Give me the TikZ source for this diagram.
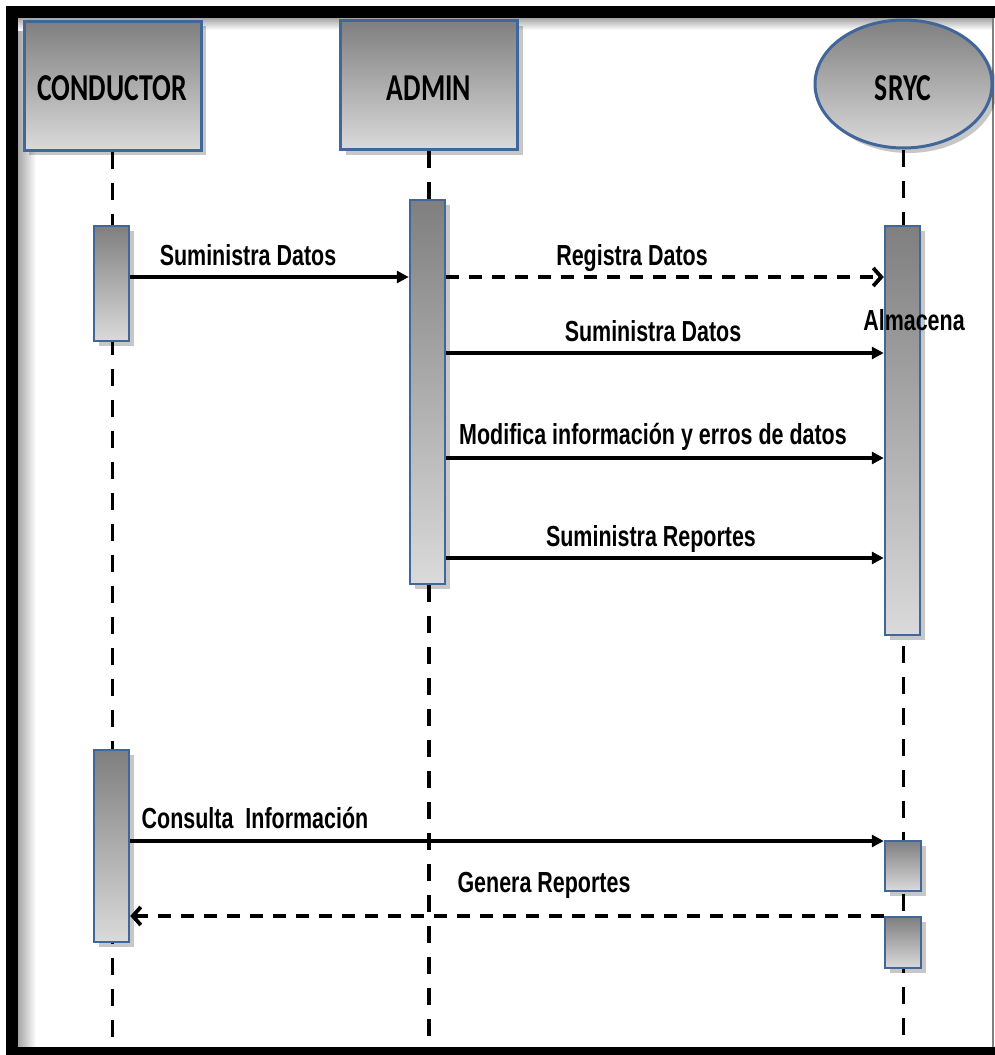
\documentclass[tikz,border=0pt]{standalone}
\usepackage{fontspec}
\usetikzlibrary{arrows.meta,shadows,shapes.geometric}
\newfontfamily\hdfont{Carlito}[FakeStretch=0.73]
\newfontfamily\lbfont{Liberation Sans}[FakeStretch=0.74]
\definecolor{boxblue}{HTML}{41679A}
\definecolor{topgray}{HTML}{7F7F7F}
\definecolor{botgray}{HTML}{DADADA}
\begin{document}
\begin{tikzpicture}[x=1pt,y=-1pt,
  shadowed/.style={drop shadow={shadow xshift=5pt,shadow yshift=-5pt,opacity=0.22,fill=black}},
  head/.style={draw=boxblue, line width=3pt, top color=topgray, bottom color=botgray,
    inner sep=0pt, shadowed},
  headbox/.style={head, rectangle, minimum width=177pt, minimum height=129pt},
  headell/.style={head, ellipse, minimum width=177pt, minimum height=128pt},
  headtxt/.style={font=\hdfont\bfseries\fontsize{38}{40}\selectfont, anchor=base, inner sep=0pt},
  actbox/.style={draw=boxblue, line width=2.5pt, top color=topgray, bottom color=botgray,
    inner sep=0pt, minimum width=35pt, shadowed},
  lifeline/.style={line width=3.8pt, dash pattern=on 17pt off 14pt},
  msg/.style={line width=3.8pt, -{Triangle[length=12pt,width=12pt]}},
  reply/.style={line width=3.8pt, dash pattern=on 13pt off 10pt, -{Straight Barb[length=8pt,width=18pt]}},
  lbl/.style={font=\lbfont\bfseries\fontsize{29}{31}\selectfont, anchor=base, inner sep=0pt}
]
% background and frame
\fill[white] (0,0) rectangle (995,1055);
\shade[left color=gray!70, right color=white] (18,18) rectangle (36,1047);
\shade[top color=gray!70, bottom color=white] (18,18) rectangle (993,30);
\fill[black] (6,6) rectangle (995,18);
\fill[black] (6,6) rectangle (18,1055);
\fill[black] (6,1047) rectangle (995,1055);
\draw[gray, line width=1.5pt] (993,18) -- (993,1047);

% row coordinates
\coordinate (bot) at (0,1045);
\coordinate (r1) at (0,277);
\coordinate (r2) at (0,353);
\coordinate (r3) at (0,458);
\coordinate (r4) at (0,558);
\coordinate (r6) at (0,841);
\coordinate (r7) at (0,916);

% headers
\node[headbox] (cond) at (112.5,85.5) {};
\node[headbox] (adm) at (429,85) {};
\node[headell] (sryc) at (903.5,84) {};
\node[headtxt] (condt) at (112,100) {CONDUCTOR};
\node[headtxt] (admt) at (429,100) {ADMIN};
\node[headtxt] (srt) at (903,100) {SRYC};

% lifelines
\draw[lifeline] (cond.south) -- (cond.south |- bot);
\draw[lifeline] (adm.south) -- (adm.south |- bot);
\draw[lifeline] (sryc.south) -- (sryc.south |- bot);

% activations
\node[actbox, minimum height=115pt] (c1) at (111.5,283.5) {};
\node[actbox, minimum height=192pt] (c2) at (111.5,846) {};
\node[actbox, minimum height=384pt] (a1) at (427.5,392) {};
\node[actbox, minimum height=409pt] (s1) at (902.5,430.5) {};
\node[actbox, minimum height=50pt, minimum width=36pt] (s2) at (903,866) {};
\node[actbox, minimum height=51pt, minimum width=36pt] (s3) at (903,942.5) {};

% messages
\draw[msg] (c1.east |- r1) -- (a1.west |- r1);
\draw[reply] (a1.east |- r1) -- (s1.west |- r1);
\draw[msg] (a1.east |- r2) -- (s1.west |- r2);
\draw[msg] (a1.east |- r3) -- (s1.west |- r3);
\draw[msg] (a1.east |- r4) -- (s1.west |- r4);
\draw[msg] (c2.east |- r6) -- (s2.west |- r6);
\draw[reply] (s3.west |- r7) -- (c2.east |- r7);

% labels
\node[lbl] (l1) at (248,265) {Suministra Datos};
\node[lbl] (l2) at (632,265) {Registra Datos};
\node[lbl] (l3) at (914,330) {Almacena};
\node[lbl] (l4) at (653,341) {Suministra Datos};
\node[lbl] (l5) at (653,444) {Modifica información y erros de datos};
\node[lbl] (l6) at (651,546) {Suministra Reportes};
\node[lbl] (l7) at (255,828) {Consulta\ \ Información};
\node[lbl] (l8) at (544,892) {Genera Reportes};
\end{tikzpicture}
\end{document}
